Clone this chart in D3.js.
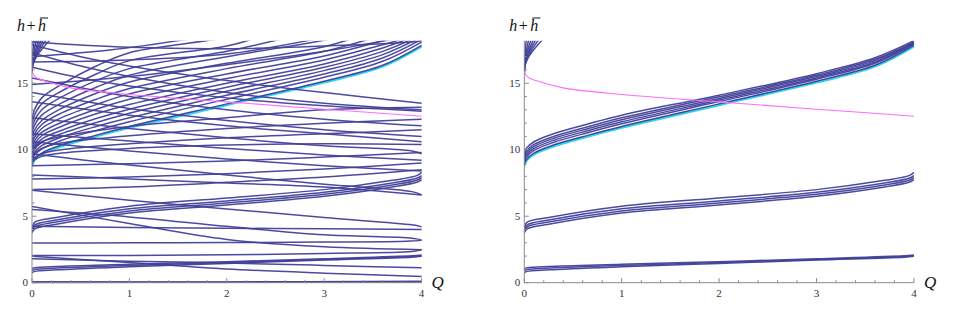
<!DOCTYPE html>
<html>
<head>
<meta charset="utf-8">
<script src="https://cdn.jsdelivr.net/npm/d3@7"></script>
<style>
  body { margin: 0; background: #fff; }
</style>
</head>
<body>
<div class="chart"></div>
<script>
// axis ticks
var xTicks = [0, 1, 2, 3, 4];
var yTicks = [0, 5, 10, 15];

// lowest curve of the upper band (the cyan one sits just under it)
var cyanLine = [[0,8.85],[0.02,9.25],[0.1,9.75],[0.3,10.35],[0.66,11.1],[1,11.75],[2,13.45],[3,15.15],[3.6,16.35],[4,17.85]];
var magentaLine = [[0,15.9],[0.03,15.5],[0.12,15.2],[0.4,14.65],[1,14.15],[2,13.6],[3,13.05],[4,12.52]];

// bottom group, both panels
var bottomBand = [
    [[0,0.75],[0.03,0.85],[0.25,0.97],[1,1.2],[2,1.45],[3,1.7],[3.9,1.92],[4,1.98]],
    [[0,0.92],[0.03,1.0],[0.25,1.1],[1,1.3],[2,1.52],[3,1.75],[3.9,1.97],[4,2.03]],
    [[0,1.05],[0.03,1.12],[0.25,1.22],[1,1.38],[2,1.58],[3,1.8],[3.9,2.02],[4,2.08]]
];

// middle group, both panels
var middleBand = [
    [[0,3.75],[0.03,4.05],[0.25,4.4],[1,5.25],[2,5.85],[3,6.5],[3.7,7.2],[3.95,7.55],[4,7.75]],
    [[0,3.88],[0.03,4.2],[0.25,4.56],[1,5.4],[2,6.0],[3,6.65],[3.7,7.35],[3.95,7.7],[4,7.9]],
    [[0,4.0],[0.03,4.35],[0.25,4.72],[1,5.56],[2,6.15],[3,6.8],[3.7,7.5],[3.95,7.85],[4,8.05]],
    [[0,4.15],[0.03,4.55],[0.25,4.9],[1,5.75],[2,6.37],[3,7.0],[3.7,7.7],[3.95,8.05],[4,8.3]]
];

// upper group in the right panel
var upperBand = [
    [[0,8.85],[0.02,9.25],[0.1,9.75],[0.3,10.35],[0.66,11.1],[1,11.75],[2,13.45],[3,15.15],[3.6,16.35],[4,17.85]],
    [[0,9.05],[0.02,9.45],[0.1,9.95],[0.3,10.55],[0.66,11.3],[1,11.95],[2,13.62],[3,15.3],[3.6,16.5],[4,17.95]],
    [[0,9.2],[0.02,9.6],[0.1,10.1],[0.3,10.7],[0.66,11.45],[1,12.1],[2,13.74],[3,15.4],[3.6,16.6],[4,18.0]],
    [[0,9.35],[0.02,9.75],[0.1,10.25],[0.3,10.85],[0.66,11.6],[1,12.25],[2,13.86],[3,15.5],[3.6,16.7],[4,18.05]],
    [[0,9.5],[0.02,9.9],[0.1,10.4],[0.3,11.0],[0.66,11.75],[1,12.4],[2,13.98],[3,15.6],[3.6,16.8],[4,18.1]],
    [[0,9.7],[0.02,10.1],[0.1,10.6],[0.3,11.2],[0.66,11.95],[1,12.6],[2,14.1],[3,15.72],[3.6,16.92],[4,18.2]]
];

// the steep wedge at the top left
var wedge = [
    [[0,15.85],[0.001,16.4],[0.005,17.0],[0.011,17.6],[0.02,18.3]],
    [[0,15.85],[0.0025,16.4],[0.011,17.0],[0.025,17.6],[0.045,18.3]],
    [[0,15.85],[0.004,16.4],[0.017,17.0],[0.039,17.6],[0.07,18.3]],
    [[0,15.85],[0.005,16.4],[0.023,17.0],[0.053,17.6],[0.095,18.3]],
    [[0,15.85],[0.0066,16.4],[0.029,17.0],[0.067,17.6],[0.12,18.3]],
    [[0,15.85],[0.008,16.4],[0.036,17.0],[0.083,17.6],[0.15,18.3]],
    [[0,15.85],[0.0104,16.4],[0.046,17.0],[0.105,17.6],[0.19,18.3]]
];

// fan above the cyan curve, left panel
var fan = [
    [[0,9.1],[0.02,9.55],[0.1,10.05],[0.3,10.7],[0.66,11.45],[1,12.1],[2,13.8],[3,15.45],[3.6,16.65],[4,18.1]],
    [[0,9.3],[0.02,9.75],[0.1,10.3],[0.3,10.95],[0.66,11.75],[1,12.4],[2,14.1],[3,15.7],[3.6,16.9],[4,18.3]],
    [[0,9.5],[0.02,9.95],[0.1,10.55],[0.3,11.2],[0.66,12.05],[1,12.75],[2,14.4],[3,15.95],[3.6,17.15],[4,18.5]],
    [[0,9.7],[0.02,10.15],[0.1,10.8],[0.3,11.45],[0.66,12.35],[1,13.05],[2,14.7],[3,16.2],[3.6,17.4],[3.9,18.3]],
    [[0,9.9],[0.02,10.35],[0.1,11.05],[0.3,11.75],[0.66,12.7],[1,13.4],[2,15.0],[3,16.45],[3.6,17.65],[3.85,18.3]],
    [[0,10.1],[0.02,10.6],[0.1,11.3],[0.3,12.05],[0.66,13.05],[1,13.8],[2,15.35],[3,16.75],[3.6,17.9],[3.8,18.3]],
    [[0,10.35],[0.02,10.85],[0.1,11.6],[0.3,12.4],[0.66,13.4],[1,14.2],[2,15.7],[3,17.05],[3.6,18.2],[3.7,18.4]],
    [[0,10.6],[0.02,11.1],[0.1,11.9],[0.3,12.75],[0.66,13.8],[1,14.6],[2,16.1],[3,17.4],[3.5,18.4]],
    [[0,10.9],[0.02,11.4],[0.1,12.2],[0.3,13.1],[0.66,14.25],[1,15.1],[2,16.5],[3,17.75],[3.3,18.4]],
    [[0,11.2],[0.02,11.75],[0.1,12.6],[0.3,13.5],[0.66,14.7],[1,15.6],[2,17.0],[2.9,18.1],[3.1,18.4]],
    [[0,11.5],[0.02,12.1],[0.1,13.0],[0.3,13.95],[0.66,15.2],[1,16.1],[2,17.4],[2.6,18.4]],
    [[0,11.85],[0.02,12.5],[0.1,13.45],[0.3,14.4],[0.66,15.7],[1,16.7],[2,17.8],[2.3,18.4]],
    [[0,12.2],[0.02,12.9],[0.1,13.9],[0.3,14.9],[0.66,16.3],[1,17.3],[1.6,18.0],[2,18.4]]
];

// remaining crossing lines, left panel
var crossLines = [
    [[0,0.02],[2,0.04],[4,0.06]],
    [[0,0.07],[2,0.06],[4,0.1]],
    [[0,1.8],[1,1.62],[2,1.48],[3,1.3],[4,1.12]],
    [[0,1.98],[1,1.52],[2,1.03],[3,0.72],[4,0.47]],
    [[0,2.05],[1,2.05],[2,2.1],[3,2.2],[3.9,2.35],[4,2.48]],
    [[0,2.98],[1,3.0],[2,3.02],[3,3.06],[3.85,3.12],[4,3.2],[3.9,3.35],[3,3.6],[2,4.24],[1,4.95],[0,5.5]],
    [[0,5.74],[1,4.45],[2,3.25],[3,2.7],[4,2.48]],
    [[0,4.24],[1,4.15],[2,4.1],[3,4.05],[4,4.0]],
    [[0,6.95],[1,6.2],[2,5.55],[3,4.9],[3.9,4.35],[4,4.2]],
    [[0,7.0],[1,7.2],[2,7.55],[3,7.95],[4,8.5]],
    [[0,7.8],[1,7.95],[2,8.2],[3,8.55],[4,9.0]],
    [[0,8.1],[1,7.8],[2,7.5],[3,7.2],[4,6.6]],
    [[0,8.8],[1,8.95],[2,9.15],[3,9.45],[4,9.8]],
    [[0,9.7],[0.5,9.25],[1,8.85],[2,8.1],[3,7.4],[3.9,6.85],[4,6.6]],
    [[0,10.6],[1,9.9],[2,9.3],[3,8.8],[4,8.4]],
    [[0,11.2],[1,10.65],[2,10.1],[3,9.6],[4,9.2]],
    [[0,12.4],[1,11.6],[2,10.9],[3,10.3],[3.9,9.9],[4,9.7]],
    [[0,13.6],[1,12.6],[2,11.8],[3,11.2],[4,10.6]],
    [[0,9.3],[0.1,9.7],[0.3,10.0],[1,10.45],[2,10.9],[3,11.2],[4,11.5]],
    [[0,9.6],[0.1,10.1],[0.3,10.5],[1,11.05],[2,11.6],[3,12.0],[4,12.3]],
    [[0,9.15],[0.1,9.5],[0.3,9.75],[1,10.1],[2,10.35],[3,10.45],[4,10.4]],
    [[0,10.0],[0.1,10.6],[0.3,11.0],[1,11.75],[2,12.4],[3,13.0],[4,13.2]],
    [[0,17.9],[0.5,17.0],[1,16.3],[2,15.2],[3,14.3],[4,13.5]],
    [[0,17.3],[0.5,16.3],[1,15.5],[2,14.3],[3,13.5],[4,13.0]],
    [[0,16.6],[1,16.75],[2,17.2],[2.9,18.3]],
    [[0,17.0],[0.8,17.5],[1.6,18.3]],
    [[0,14.9],[1,15.5],[2,16.4],[3,17.4],[3.7,18.3]],
    [[0,16.2],[0.5,15.4],[1,14.8],[2,13.9],[3,13.3],[4,12.9]],
    [[0,15.4],[1,14.0],[2,13.0],[3,12.3],[4,11.8]],
    [[0,14.3],[1,13.1],[2,12.2],[3,11.5],[4,11.0]],
    [[0,18.1],[1,17.7],[2,17.6],[3,17.8],[3.9,18.1],[4,18.2]]
];

var navy = "#41409a";
var serif = "'Liberation Serif', 'Times New Roman', 'DejaVu Serif', serif";

var svg = d3.select(".chart").append("svg")
    .attr("width", 954)
    .attr("height", 313);

function drawPanel(left, groups, id) {
    var x = d3.scaleLinear().domain([0, 4]).range([left, left + 389.6]);
    var y = d3.scaleLinear().domain([0, 18.2]).range([282.7, 40.7]);

    svg.append("clipPath").attr("id", id)
        .append("rect")
        .attr("x", x(0)).attr("y", y(18.2))
        .attr("width", x(4) - x(0) + 1).attr("height", y(0) - y(18.2) + 1);

    var line = d3.line()
        .x(function(d) { return x(d[0]); })
        .y(function(d) { return y(d[1]); })
        .curve(d3.curveCatmullRom.alpha(0.5));

    var g = svg.append("g").attr("clip-path", "url(#" + id + ")");

    // cyan first so the navy curve sits on top of it
    g.append("path")
        .attr("d", line(cyanLine.map(function(d) { return [d[0], d[1] - 0.09]; })))
        .attr("fill", "none").attr("stroke", "#2fd6ee").attr("stroke-width", 2.4);

    groups.forEach(function(grp) {
        g.selectAll(null).data(grp).enter().append("path")
            .attr("d", line)
            .attr("fill", "none")
            .attr("stroke", navy)
            .attr("stroke-width", 1.5)
            .attr("stroke-opacity", 0.95);
    });

    g.append("path")
        .attr("d", line(magentaLine))
        .attr("fill", "none").attr("stroke", "#ff6cff").attr("stroke-width", 1.1);

    // axes, ticks pointing inwards
    var ax = svg.append("g").attr("stroke", "#8a8a8a").attr("stroke-width", 1);
    ax.append("line").attr("x1", x(0)).attr("x2", x(4)).attr("y1", y(0)).attr("y2", y(0));
    ax.append("line").attr("x1", x(0)).attr("x2", x(0)).attr("y1", y(0)).attr("y2", y(18.2));

    var xMinor = d3.range(0, 4.001, 0.2);
    ax.selectAll(null).data(xMinor).enter().append("line")
        .attr("x1", function(d) { return x(d); }).attr("x2", function(d) { return x(d); })
        .attr("y1", y(0))
        .attr("y2", function(d) { return y(0) - (Math.abs(d - Math.round(d)) < 1e-6 ? 4.5 : 2.5); });

    var yMinor = d3.range(0, 18.001, 1);
    ax.selectAll(null).data(yMinor).enter().append("line")
        .attr("y1", function(d) { return y(d); }).attr("y2", function(d) { return y(d); })
        .attr("x1", x(0))
        .attr("x2", function(d) { return x(0) + (d % 5 === 0 ? 4.5 : 2.5); });

    svg.selectAll(null).data(xTicks).enter().append("text")
        .attr("x", function(d) { return x(d); })
        .attr("y", y(0) + 14)
        .attr("text-anchor", "middle")
        .attr("font-family", serif)
        .attr("font-size", 11).attr("fill", "#333")
        .text(function(d) { return d; });

    svg.selectAll(null).data(yTicks).enter().append("text")
        .attr("x", x(0) - 4)
        .attr("y", function(d) { return y(d) + 3.5; })
        .attr("text-anchor", "end")
        .attr("font-family", serif)
        .attr("font-size", 11).attr("fill", "#333")
        .text(function(d) { return d; });

    // y label: h + h-bar
    var lab = svg.append("g")
        .attr("font-family", serif).attr("font-size", 16).attr("fill", "#111");
    lab.append("text").attr("x", left - 15).attr("y", 31)
        .attr("font-style", "italic").text("h");
    lab.append("text").attr("x", left - 5.5).attr("y", 31).text("+");
    lab.append("text").attr("x", left + 6).attr("y", 31)
        .attr("font-style", "italic").text("h");
    svg.append("line")
        .attr("x1", left + 8).attr("x2", left + 16)
        .attr("y1", 18).attr("y2", 18)
        .attr("stroke", "#111").attr("stroke-width", 1);

    svg.append("text")
        .attr("x", x(4) + 10).attr("y", 288)
        .attr("font-family", serif)
        .attr("font-size", 17).attr("font-style", "italic").attr("fill", "#111")
        .text("Q");
}

drawPanel(32, [bottomBand, middleBand, [cyanLine], fan, wedge, crossLines], "clipL");
drawPanel(524.3, [bottomBand, middleBand, upperBand, wedge], "clipR");
</script>
</body>
</html>
